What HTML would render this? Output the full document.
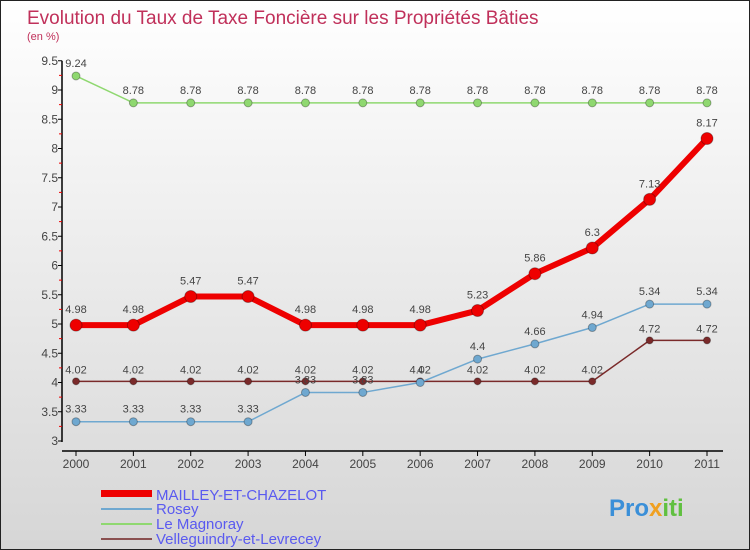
<!DOCTYPE html>
<html><head><meta charset="utf-8"><style>
body{margin:0}
#c{width:750px;height:550px;position:relative;box-sizing:border-box;border:1px solid #222;background:linear-gradient(#ffffff,#d6d6d6);font-family:"Liberation Sans",sans-serif;overflow:hidden}
</style></head><body>
<div id="c">
<svg id="s" width="748" height="548" style="position:absolute;left:0;top:0">
<text x="26" y="23" font-size="19" fill="#c0305a">Evolution du Taux de Taxe Foncière sur les Propriétés Bâties</text>
<text x="26" y="39" font-size="11" fill="#c0305a">(en %)</text>
<g id="axes"></g><g id="series"></g>
<g>
<rect x="100" y="489" width="51" height="7" fill="#e00"/>
<text x="155" y="499" font-size="15" fill="#5a5af0">MAILLEY-ET-CHAZELOT</text>
<rect x="100" y="507" width="51" height="2" fill="#6fa8d0"/>
<text x="155" y="513" font-size="15" fill="#5a5af0">Rosey</text>
<rect x="100" y="522" width="51" height="2" fill="#8fd870"/>
<text x="155" y="528" font-size="15" fill="#5a5af0">Le Magnoray</text>
<rect x="100" y="537" width="51" height="2" fill="#8a5050"/>
<text x="155" y="543" font-size="15" fill="#5a5af0">Velleguindry-et-Levrecey</text>
</g>
<text x="608" y="515" font-size="24" font-weight="bold"><tspan fill="#3a8fd8">Pro</tspan><tspan fill="#f0a020">x</tspan><tspan fill="#60c040">iti</tspan></text>
</svg>
</div>
<script>
const years=["2000","2001","2002","2003","2004","2005","2006","2007","2008","2009","2010","2011"];
const yTicks=[3,3.5,4,4.5,5,5.5,6,6.5,7,7.5,8,8.5,9,9.5];
const mailley=[4.98,4.98,5.47,5.47,4.98,4.98,4.98,5.23,5.86,6.3,7.13,8.17];
const rosey=[3.33,3.33,3.33,3.33,3.83,3.83,4,4.4,4.66,4.94,5.34,5.34];
const magnoray=[9.24,8.78,8.78,8.78,8.78,8.78,8.78,8.78,8.78,8.78,8.78,8.78];
const velle=[4.02,4.02,4.02,4.02,4.02,4.02,4.02,4.02,4.02,4.02,4.72,4.72];
const NS="http://www.w3.org/2000/svg";
function X(i){return 75+i*(706-75)/(years.length-1);}
function Y(v){return 440-(v-3)*58.5;}
function mk(p,t,a){const e=document.createElementNS(NS,t);for(const k in a)e.setAttribute(k,a[k]);p.appendChild(e);return e;}
const ax=document.getElementById('axes');
let e=mk(ax,'line',{x1:61,y1:Y(9.5),x2:61,y2:441,stroke:'#000','stroke-width':1.5});


e=mk(ax,'line',{x1:61,y1:450,x2:722,y2:450,stroke:'#000','stroke-width':1.5});


yTicks.forEach((v,i)=>{
 mk(ax,'line',{x1:57,y1:Y(v),x2:61,y2:Y(v),stroke:'#000'});
 if(i<yTicks.length-1)mk(ax,'line',{x1:58,y1:Y(v+0.25),x2:61,y2:Y(v+0.25),stroke:'#e00'});
 const t=mk(ax,'text',{x:57,y:Y(v)+4,'font-size':12,fill:'#444','text-anchor':'end'});t.textContent=String(v);
 
 
});
years.forEach((y,i)=>{
 mk(ax,'line',{x1:X(i),y1:450,x2:X(i),y2:455,stroke:'#000'});
 const t=mk(ax,'text',{x:X(i),y:467,'font-size':12,fill:'#444','text-anchor':'middle'});t.textContent=y;
 
 
});
const sg=document.getElementById('series');
function draw(vals,col,lw,r,name,lab){
 const g=mk(sg,'g',{});
 
 
 mk(g,'polyline',{points:vals.map((v,i)=>X(i)+','+Y(v)).join(' '),fill:'none',stroke:col,'stroke-width':lw,'stroke-linejoin':'round'});
 vals.forEach((v,i)=>{
  const c=mk(g,'circle',{cx:X(i),cy:Y(v),r:r,fill:col,stroke:'rgba(0,0,0,0.3)','stroke-width':1});
  
  
  const t=mk(g,'text',{x:X(i),y:Y(v)-lab,'font-size':11,fill:'#444','text-anchor':'middle'});t.textContent=String(v);
  
  
 });
}
draw(velle,'#7a2a2a',1.5,3.5,'series-velleguindry',8);
draw(rosey,'#6fa8d0',1.5,4,'series-rosey',9);
draw(magnoray,'#8fd870',1.5,4,'series-magnoray',9);
draw(mailley,'#e00',6,6,'series-mailley',12);
</script>
</body></html>
